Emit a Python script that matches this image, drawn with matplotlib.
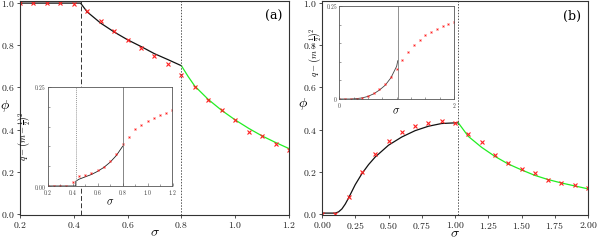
import matplotlib
matplotlib.use("Agg")
import matplotlib.pyplot as plt
from matplotlib.ticker import FuncFormatter, MultipleLocator

plt.rcParams['mathtext.fontset'] = 'cm'
plt.rcParams['font.family'] = 'serif'
plt.rcParams['font.serif'] = ['DejaVu Serif']

# ---- panel (a) data ----
sig_a_pts = [0.2, 0.25, 0.3, 0.35, 0.4, 0.45, 0.5, 0.55, 0.6, 0.65, 0.7,
             0.75, 0.8, 0.85, 0.9, 0.95, 1.0, 1.05, 1.1, 1.15, 1.2]
phi_a_pts = [1.0, 1.0, 1.0, 1.0, 0.995, 0.963, 0.915, 0.869, 0.824, 0.789, 0.751,
             0.709, 0.657, 0.602, 0.539, 0.491, 0.446, 0.389, 0.370, 0.333, 0.304]
sig_a_black = [0.2, 0.425, 0.45, 0.5, 0.55, 0.6, 0.65, 0.7, 0.75, 0.8]
phi_a_black = [1.0, 1.0, 0.958, 0.905, 0.863, 0.826, 0.794, 0.760, 0.732, 0.703]
sig_a_green = [0.8, 0.825, 0.85, 0.9, 0.95, 1.0, 1.05, 1.1, 1.15, 1.2]
phi_a_green = [0.703, 0.652, 0.606, 0.543, 0.491, 0.446, 0.406, 0.370, 0.339, 0.310]
sig_a_crit1 = 0.425
sig_a_crit2 = 0.8

# inset (a): q - (m - 1/2)^2
ins_a_q = [0.0, 0.0, 0.0, 0.0, 0.011, 0.026, 0.027, 0.032, 0.040, 0.049, 0.063,
           0.081, 0.106, 0.123, 0.143, 0.155, 0.164, 0.172, 0.179, 0.185, 0.192]
ins_a_sig_line = [0.2, 0.425, 0.425, 0.45, 0.5, 0.55, 0.6, 0.65, 0.7, 0.75, 0.8]
ins_a_q_line = [0.0, 0.0, 0.012, 0.017, 0.023, 0.029, 0.037, 0.047, 0.060, 0.077, 0.100]

# ---- panel (b) data ----
sig_b_pts = [0.0, 0.1, 0.2, 0.3, 0.4, 0.5, 0.6, 0.7, 0.8, 0.9, 1.0,
             1.1, 1.2, 1.3, 1.4, 1.5, 1.6, 1.7, 1.8, 1.9, 2.0]
phi_b_pts = [0.0, 0.0, 0.081, 0.199, 0.286, 0.345, 0.389, 0.416, 0.432, 0.441, 0.432,
             0.381, 0.340, 0.281, 0.242, 0.215, 0.194, 0.163, 0.147, 0.135, 0.122]
sig_b_black = [0.0, 0.1, 0.125, 0.15, 0.175, 0.2, 0.25, 0.3, 0.35, 0.4, 0.5,
               0.6, 0.7, 0.8, 0.9, 1.0, 1.025]
phi_b_black = [0.004, 0.004, 0.010, 0.024, 0.047, 0.076, 0.139, 0.191, 0.234, 0.270, 0.326,
               0.365, 0.395, 0.416, 0.429, 0.432, 0.432]
sig_b_green = [1.025, 1.1, 1.2, 1.3, 1.4, 1.5, 1.6, 1.7, 1.8, 1.9, 2.0]
phi_b_green = [0.432, 0.368, 0.316, 0.273, 0.237, 0.209, 0.183, 0.163, 0.147, 0.133, 0.119]
sig_b_crit = 1.025

# inset (b)
ins_b_sig = [0.0, 0.1, 0.2, 0.3, 0.4, 0.5, 0.6, 0.7, 0.8, 0.9, 1.0,
             1.1, 1.2, 1.3, 1.4, 1.5, 1.6, 1.7, 1.8, 1.9, 2.0]
ins_b_q = [0.0, 0.0, 0.0, 0.001, 0.003, 0.008, 0.016, 0.028, 0.041, 0.059, 0.081,
           0.104, 0.125, 0.144, 0.159, 0.172, 0.180, 0.189, 0.197, 0.202, 0.207]
ins_b_sig_line = [0.0, 0.2, 0.3, 0.4, 0.5, 0.6, 0.7, 0.8, 0.9, 1.0, 1.02]
ins_b_q_line = [0.0, 0.0, 0.001, 0.003, 0.007, 0.014, 0.024, 0.037, 0.057, 0.088, 0.103]

red = '#ff2020'
green = '#22ee22'
spine_col = '#333333'

fig = plt.figure(figsize=(5.97, 2.40), dpi=100)

def fmt(nd):
    return FuncFormatter(lambda v, p: '$%.*f$' % (nd, v))

def style_main(ax, ylab_pos):
    for s in ax.spines.values():
        s.set_color(spine_col)
        s.set_linewidth(0.8)
    ax.tick_params(labelsize=7, length=2.5, width=0.6, pad=1, colors=spine_col,
                   labelcolor='#222222')
    ax.set_ylim(-0.005, 1.01)
    ax.yaxis.set_major_locator(MultipleLocator(0.2))
    ax.yaxis.set_major_formatter(fmt(1))
    ax.set_xlabel(r'$\sigma$', fontsize=10, labelpad=-3)
    # phi label sits upright, squeezed in between the tick labels
    ax.set_ylabel(r'$\phi$', fontsize=10, rotation=0, ha='center', va='center')
    ax.yaxis.set_label_coords(*ylab_pos)

def style_inset(ax):
    for s in ax.spines.values():
        s.set_color('#555555')
        s.set_linewidth(0.6)
    ax.tick_params(which='both', direction='in', labelsize=4, length=2, width=0.4,
                   pad=1.5, colors='#555555', labelcolor='#333333')
    ax.tick_params(which='minor', length=1.2)
    ax.set_ylim(0, 0.25)
    ax.set_ylabel(r'$q-\left(m-\frac{1}{2}\right)^2$', fontsize=6.5, labelpad=1)

# ---------------- panel (a) ----------------
ax1 = fig.add_axes([20 / 597, 25 / 240, 269 / 597, 214 / 240])
ax1.plot(sig_a_black, phi_a_black, color='#111111', lw=0.9)
ax1.plot(sig_a_green, phi_a_green, color=green, lw=0.9)
ax1.plot(sig_a_pts, phi_a_pts, ls='none', marker='x', color=red, ms=3.2, mew=0.8)
ax1.axvline(sig_a_crit1, color='#333333', lw=0.7, ls=(0, (5, 2.5)))
ax1.axvline(sig_a_crit2, color='#555555', lw=0.7, ls=(0, (1.5, 1.5)))
ax1.set_xlim(0.2, 1.2)
ax1.xaxis.set_major_locator(MultipleLocator(0.2))
ax1.xaxis.set_major_formatter(fmt(1))
style_main(ax1, (-0.056, 0.51))
ax1.text(0.975, 0.96, '(a)', transform=ax1.transAxes, ha='right', va='top', fontsize=9)

ins1 = fig.add_axes([47.7 / 597, 54 / 240, 124.8 / 597, 99 / 240])
ins1.plot(ins_a_sig_line, ins_a_q_line, color='#222222', lw=0.6)
ins1.plot(sig_a_pts, ins_a_q, ls='none', marker='x', color=red, ms=1.3, mew=0.6)
ins1.axvline(sig_a_crit1, color='#999999', lw=0.7, ls=(0, (1, 1)))
ins1.axvline(sig_a_crit2, color='#555555', lw=0.5)
ins1.set_xlim(0.2, 1.2)
ins1.xaxis.set_major_locator(MultipleLocator(0.2))
ins1.xaxis.set_minor_locator(MultipleLocator(0.1))
ins1.xaxis.set_major_formatter(fmt(1))
ins1.set_yticks([0.0, 0.25])
ins1.yaxis.set_minor_locator(MultipleLocator(0.05))
ins1.yaxis.set_major_formatter(fmt(2))
style_inset(ins1)
ins1.set_xlabel(r'$\sigma$', fontsize=8, labelpad=0)

# ---------------- panel (b) ----------------
ax2 = fig.add_axes([322 / 597, 25 / 240, 266 / 597, 214 / 240])
ax2.plot(sig_b_black, phi_b_black, color='#111111', lw=0.9)
ax2.plot(sig_b_green, phi_b_green, color=green, lw=0.9)
ax2.plot(sig_b_pts, phi_b_pts, ls='none', marker='x', color=red, ms=3.2, mew=0.8)
ax2.axvline(sig_b_crit, color='#555555', lw=0.7, ls=(0, (1.5, 1.5)))
ax2.set_xlim(0.0, 2.0)
ax2.xaxis.set_major_locator(MultipleLocator(0.25))
ax2.xaxis.set_major_formatter(fmt(2))
style_main(ax2, (-0.072, 0.52))
ax2.text(0.975, 0.96, '(b)', transform=ax2.transAxes, ha='right', va='top', fontsize=9)

ins2 = fig.add_axes([339.3 / 597, 141 / 240, 114.7 / 597, 93 / 240])
ins2.plot(ins_b_sig_line, ins_b_q_line, color='#444444', lw=0.6)
ins2.plot(ins_b_sig, ins_b_q, ls='none', marker='x', color=red, ms=1.3, mew=0.6)
ins2.axvline(1.02, color='#666666', lw=0.5)
ins2.set_xlim(0.0, 2.0)
ins2.set_xticks([0, 2])
ins2.xaxis.set_minor_locator(MultipleLocator(0.25))
ins2.xaxis.set_major_formatter(FuncFormatter(lambda v, p: '$%d$' % v))
ins2.set_yticks([0.0, 0.25])
ins2.yaxis.set_minor_locator(MultipleLocator(0.05))
ins2.yaxis.set_major_formatter(FuncFormatter(lambda v, p: '$0$' if v == 0 else '$%.2f$' % v))
style_inset(ins2)
ins2.set_xlabel(r'$\sigma$', fontsize=8, labelpad=-3)

fig.savefig('out.png', dpi=100)
